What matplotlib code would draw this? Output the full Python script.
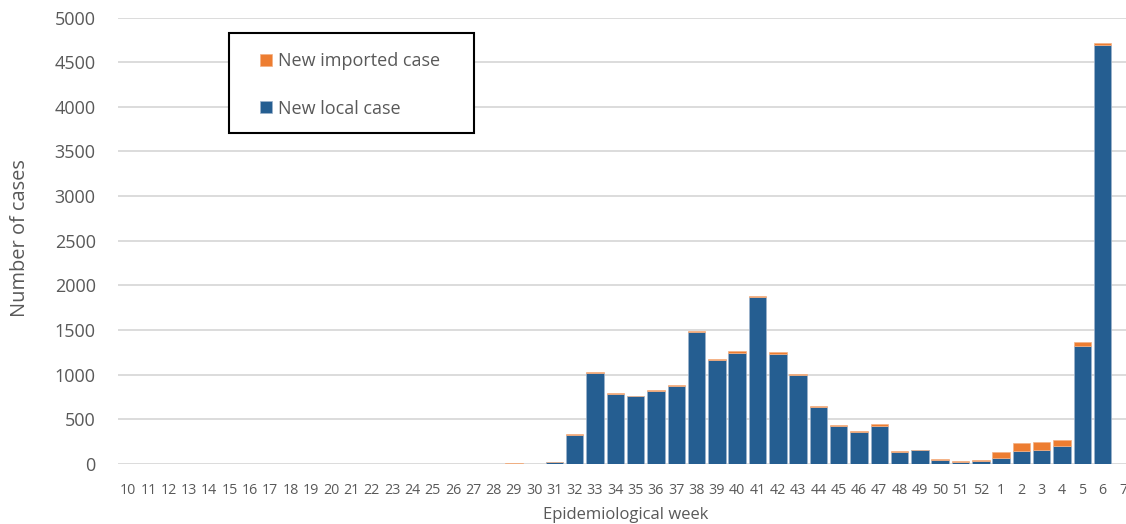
import matplotlib
matplotlib.use("Agg")
import matplotlib.pyplot as plt
from matplotlib.patches import Rectangle
import numpy as np

weeks = [str(w) for w in range(10, 53)] + [str(w) for w in range(1, 8)]

local_cases = [0]*19 + [
    0,    # 29
    0,    # 30
    18,   # 31
    325,  # 32
    1022, # 33
    785,  # 34
    760,  # 35
    822,  # 36
    871,  # 37
    1476, # 38
    1162, # 39
    1248, # 40
    1870, # 41
    1237, # 42
    1001, # 43
    636,  # 44
    422,  # 45
    359,  # 46
    430,  # 47
    131,  # 48
    157,  # 49
    45,   # 50
    22,   # 51
    30,   # 52
    71,   # 1
    142,  # 2
    157,  # 3
    205,  # 4
    1327, # 5
    4693, # 6
    0,    # 7
]

imported_cases = [0]*19 + [
    10,  # 29
    0,   # 30
    8,   # 31
    15,  # 32
    13,  # 33
    12,  # 34
    3,   # 35
    12,  # 36
    12,  # 37
    12,  # 38
    12,  # 39
    12,  # 40
    12,  # 41
    15,  # 42
    12,  # 43
    12,  # 44
    12,  # 45
    12,  # 46
    15,  # 47
    12,  # 48
    0,   # 49
    11,  # 50
    11,  # 51
    11,  # 52
    64,  # 1
    90,  # 2
    90,  # 3
    64,  # 4
    37,  # 5
    26,  # 6
    0,   # 7
]

yticks = [0, 500, 1000, 1500, 2000, 2500, 3000, 3500, 4000, 4500, 5000]

BLUE = "#255E91"
ORANGE = "#ED7D31"
GREY_TXT = "#595959"

plt.rcParams['font.family'] = ['Open Sans', 'DejaVu Sans']

fig = plt.figure(figsize=(11.26, 5.24), dpi=100)
W, H = 1126, 524
ax = fig.add_axes([0.1047, 0.1145, 0.9016, 0.8521])

x = np.arange(len(weeks))
ax.bar(x, local_cases, width=0.86, color=BLUE, edgecolor="#9DB3CC", linewidth=0.5,
       label="New local case", zorder=3)
ax.bar(x, imported_cases, bottom=local_cases, width=0.86, color=ORANGE,
       edgecolor="#F4B183", linewidth=0.5, label="New imported case", zorder=3)

ax.set_xlim(-0.5, len(weeks) - 0.5)
ax.set_ylim(0, 5000)
ax.set_yticks(yticks)
ax.set_yticklabels([str(v) for v in yticks], fontsize=13, color=GREY_TXT)
ax.set_xticks(x)
ax.set_xticklabels(weeks, fontsize=10.3, color=GREY_TXT)
ax.tick_params(axis='both', length=0)
ax.tick_params(axis='x', pad=14)
ax.tick_params(axis='y', pad=16)
ax.grid(axis='y', color="#D9D9D9", linewidth=1.3, zorder=0)
for s in ax.spines.values():
    s.set_visible(False)

fig.text(20 / W, 1 - 238 / H, "Number of cases", fontsize=14.4, color=GREY_TXT,
         rotation=90, ha='center', va='center')
fig.text(626 / W, 1 - 515 / H, "Epidemiological week", fontsize=12, color=GREY_TXT,
         ha='center', va='center')

# legend frame (drawn as rectangle in figure coords)
frame = Rectangle((229 / W, 1 - 133 / H), (474 - 229) / W, (133 - 33) / H,
                  transform=fig.transFigure, facecolor="white", edgecolor="black",
                  linewidth=1.5, zorder=4, clip_on=False)
ax.add_patch(frame)

handles, labels = ax.get_legend_handles_labels()
leg = ax.legend(handles[::-1], labels[::-1], loc='upper left',
                bbox_to_anchor=(260 / W, 1 - 52 / H), bbox_transform=fig.transFigure,
                fontsize=13, frameon=False, handlelength=0.65,
                handleheight=0.65, handletextpad=0.35, labelspacing=1.65,
                borderpad=0, borderaxespad=0, labelcolor=GREY_TXT)
leg.set_zorder(6)

fig.savefig("out.png", dpi=100)
